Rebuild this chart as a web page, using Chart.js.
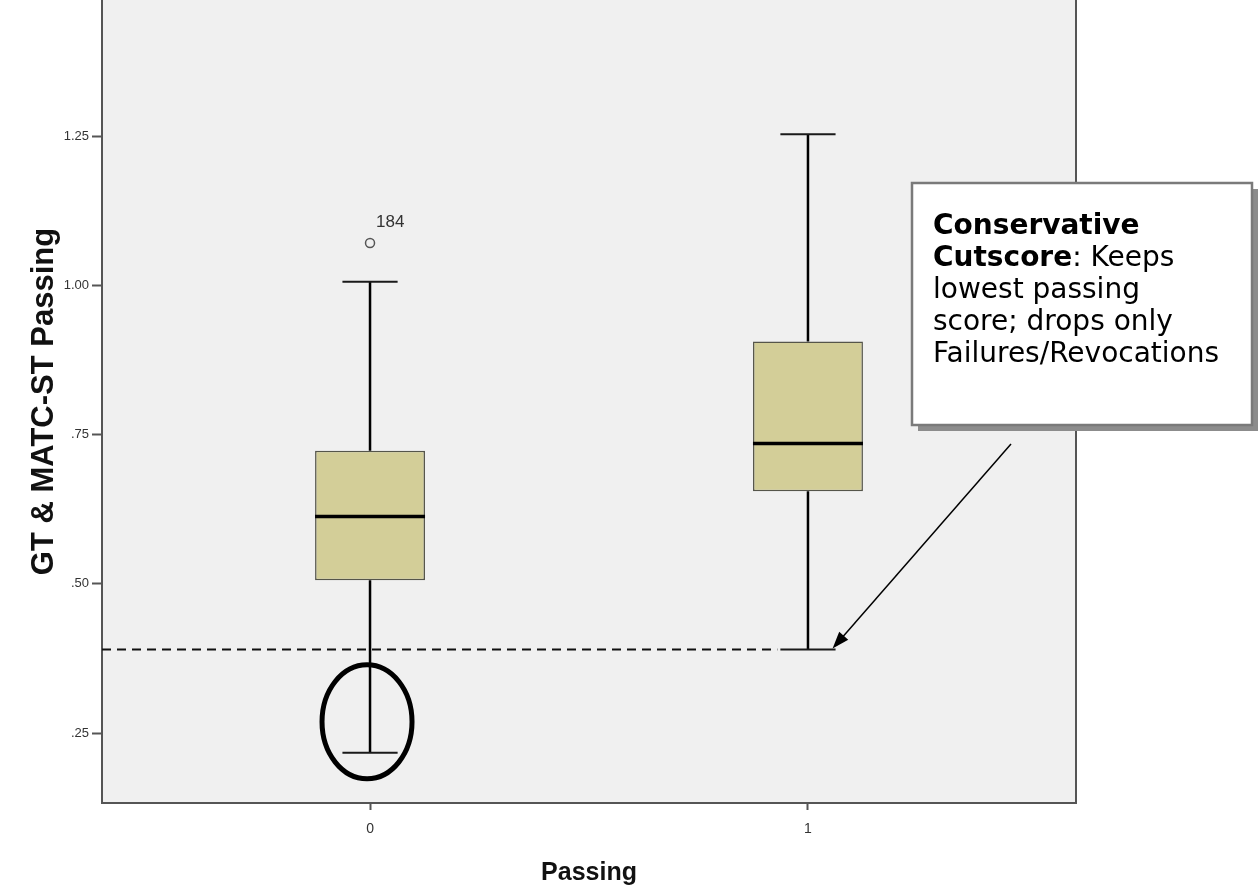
<!DOCTYPE html>
<html>
<head>
<meta charset="utf-8">
<title>GT &amp; MATC-ST Passing by Passing</title>
<script src="https://cdn.jsdelivr.net/npm/chart.js@4.4.1/dist/chart.umd.min.js"></script>
<style>
  html, body { margin: 0; padding: 0; background: #ffffff; }
  #wrap { width: 1258px; height: 888px; }
</style>
</head>
<body>
<div id="wrap"><canvas id="boxChart" width="1258" height="888"></canvas></div>
<script>
// ===== DATA =====
const groups = [0, 1];
const groupLabels = ['0', '1'];
const whiskerLow = [0.217, 0.390];
const q1 = [0.506, 0.655];
const median = [0.613, 0.735];
const q3 = [0.723, 0.906];
const whiskerHigh = [1.006, 1.253];
const outlierGroup = [0];
const outlierValue = [1.071];
const outlierLabel = ['184'];
const cutscore = 0.390;
const yTicks = [0.25, 0.50, 0.75, 1.00, 1.25];
const yTickLabels = ['.25', '.50', '.75', '1.00', '1.25'];

// ===== LAYOUT =====
const X_MIN = -0.612, X_MAX = 1.612;
const Y_MIN = 0.133, Y_MAX = 1.478;
const BOX_HALF = 0.1256;
const CAP_HALF = 0.063;
const AXIS_FONT = 'Liberation Sans, Arial, sans-serif';
const NOTE_FONT = 'DejaVu Sans, Verdana, sans-serif';

// line segments separated by gaps
function segments(list) {
    const out = [];
    list.forEach(([a, b]) => {
        out.push({ x: a[0], y: a[1] }, { x: b[0], y: b[1] }, { x: b[0], y: null });
    });
    return out;
}

const medianSegs = segments(groups.map((g, i) => [[g - BOX_HALF, median[i]], [g + BOX_HALF, median[i]]]));
const capSegs = segments(groups.flatMap((g, i) => [
    [[g - CAP_HALF, whiskerHigh[i]], [g + CAP_HALF, whiskerHigh[i]]],
    [[g - CAP_HALF, whiskerLow[i]], [g + CAP_HALF, whiskerLow[i]]]
]));
const whiskerSegs = segments(groups.flatMap((g, i) => [
    [[g, q3[i]], [g, whiskerHigh[i]]],
    [[g, q1[i]], [g, whiskerLow[i]]]
]));

// ===== PLUGINS =====
const plotBackground = {
    id: 'plotBackground',
    beforeDraw(chart) {
        const { ctx, chartArea: a } = chart;
        ctx.save();
        ctx.fillStyle = '#f0f0f0';
        ctx.fillRect(a.left, a.top, a.right - a.left, a.bottom - a.top);
        ctx.restore();
    }
};

const notes = {
    id: 'notes',
    afterDraw(chart) {
        const { ctx, chartArea: a, scales: { x, y } } = chart;
        ctx.save();

        // right frame line
        ctx.strokeStyle = '#555';
        ctx.lineWidth = 2;
        ctx.beginPath();
        ctx.moveTo(a.right, a.top);
        ctx.lineTo(a.right, a.bottom + 1);
        ctx.stroke();

        // outlier case labels
        ctx.fillStyle = '#333';
        ctx.font = '17px ' + AXIS_FONT;
        ctx.textAlign = 'left';
        ctx.textBaseline = 'middle';
        outlierValue.forEach((v, i) => {
            ctx.fillText(outlierLabel[i], x.getPixelForValue(outlierGroup[i]) + 6, y.getPixelForValue(v) - 21);
        });

        // circle round the lowest whisker of group 0
        const ex = x.getPixelForValue(groups[0]) - 3;
        const ey = y.getPixelForValue(whiskerLow[0]) - 31;
        ctx.strokeStyle = '#000';
        ctx.lineWidth = 5;
        ctx.beginPath();
        ctx.ellipse(ex, ey, 45, 57, 0, 0, Math.PI * 2);
        ctx.stroke();

        // callout box with shadow
        const bx = 912, by = 183, bw = 340, bh = 242;
        ctx.fillStyle = '#8c8c8c';
        ctx.fillRect(bx + 6, by + 6, bw, bh);
        ctx.fillStyle = '#ffffff';
        ctx.fillRect(bx, by, bw, bh);
        ctx.strokeStyle = '#7a7a7a';
        ctx.lineWidth = 2.5;
        ctx.strokeRect(bx, by, bw, bh);

        ctx.fillStyle = '#000';
        ctx.textBaseline = 'alphabetic';
        const tx = bx + 21;
        ctx.font = 'bold 28px ' + NOTE_FONT;
        ctx.fillText('Conservative', tx, 234);
        ctx.fillText('Cutscore', tx, 266);
        const w = ctx.measureText('Cutscore').width;
        ctx.font = '28px ' + NOTE_FONT;
        ctx.fillText(': Keeps', tx + w, 266);
        ctx.fillText('lowest passing', tx, 298);
        ctx.fillText('score; drops only', tx, 330);
        ctx.fillText('Failures/Revocations', tx, 362);

        // arrow to the lowest passing score
        const x0 = 1011, y0 = 444;
        const x1 = x.getPixelForValue(groups[1] + CAP_HALF) - 3;
        const y1 = y.getPixelForValue(whiskerLow[1]) - 1;
        const ang = Math.atan2(y1 - y0, x1 - x0);
        ctx.strokeStyle = '#000';
        ctx.lineWidth = 1.5;
        ctx.beginPath();
        ctx.moveTo(x0, y0);
        ctx.lineTo(x1 - 12 * Math.cos(ang), y1 - 12 * Math.sin(ang));
        ctx.stroke();
        ctx.beginPath();
        ctx.moveTo(x1, y1);
        ctx.lineTo(x1 - 17 * Math.cos(ang) + 6 * Math.sin(ang), y1 - 17 * Math.sin(ang) - 6 * Math.cos(ang));
        ctx.lineTo(x1 - 17 * Math.cos(ang) - 6 * Math.sin(ang), y1 - 17 * Math.sin(ang) + 6 * Math.cos(ang));
        ctx.closePath();
        ctx.fill();

        ctx.restore();
    }
};

// ===== CHART =====
const ctx = document.getElementById('boxChart').getContext('2d');
const chart = new Chart(ctx, {
    type: 'bar',
    data: {
        datasets: [
            {
                type: 'scatter',
                label: 'Outliers',
                data: outlierValue.map((v, i) => ({ x: outlierGroup[i], y: v })),
                pointRadius: 4.5,
                pointBorderWidth: 1.5,
                pointBorderColor: '#555',
                pointBackgroundColor: 'rgba(0,0,0,0)',
                order: 0
            },
            {
                type: 'line',
                label: 'Median',
                data: medianSegs,
                borderColor: '#000',
                borderWidth: 3.5,
                pointRadius: 0,
                order: 1
            },
            {
                type: 'line',
                label: 'Caps',
                data: capSegs,
                borderColor: '#1a1a1a',
                borderWidth: 2,
                pointRadius: 0,
                order: 2
            },
            {
                type: 'line',
                label: 'Whiskers',
                data: whiskerSegs,
                borderColor: '#000',
                borderWidth: 2.5,
                pointRadius: 0,
                order: 3
            },
            {
                type: 'line',
                label: 'Cutscore',
                data: [{ x: X_MIN, y: cutscore }, { x: groups[1] - CAP_HALF - 0.007, y: cutscore }],
                borderColor: '#111',
                borderWidth: 2,
                borderDash: [9, 6],
                pointRadius: 0,
                order: 4
            },
            {
                type: 'bar',
                label: 'IQR',
                data: groups.map((g, i) => ({ x: g, y: [q1[i], q3[i]] })),
                backgroundColor: '#d3ce98',
                borderColor: '#55554a',
                borderWidth: 1.5,
                borderSkipped: false,
                barPercentage: 0.251,
                categoryPercentage: 1,
                order: 5
            }
        ]
    },
    options: {
        responsive: false,
        animation: false,
        devicePixelRatio: 1,
        layout: { autoPadding: false, padding: { left: 0, right: 182, top: 0, bottom: 0 } },
        plugins: {
            legend: { display: false },
            tooltip: { enabled: false }
        },
        scales: {
            x: {
                type: 'linear',
                min: X_MIN,
                max: X_MAX,
                offset: false,
                afterBuildTicks: s => { s.ticks = groups.map(v => ({ value: v })); },
                afterFit: s => { s.height = 85; s.paddingLeft = 0; s.paddingRight = 0; },
                ticks: {
                    callback: v => groupLabels[groups.indexOf(v)],
                    color: '#333',
                    font: { family: AXIS_FONT, size: 14 },
                    padding: 11,
                    maxRotation: 0,
                    autoSkip: false
                },
                grid: { offset: false, drawOnChartArea: false, drawTicks: true, tickLength: 7, tickWidth: 2, color: '#555' },
                border: { display: true, color: '#555', width: 2 },
                title: {
                    display: true,
                    text: 'Passing',
                    color: '#111',
                    font: { family: AXIS_FONT, size: 25, weight: 'bold' },
                    padding: { top: 0, bottom: 0 }
                }
            },
            y: {
                min: Y_MIN,
                max: Y_MAX,
                afterBuildTicks: s => { s.ticks = yTicks.map(v => ({ value: v })); },
                afterFit: s => { s.width = 102; s.paddingTop = 0; s.paddingBottom = 0; },
                ticks: {
                    callback: v => yTickLabels[yTicks.indexOf(v)],
                    color: '#333',
                    font: { family: AXIS_FONT, size: 13 },
                    padding: 3
                },
                grid: { drawOnChartArea: false, drawTicks: true, tickLength: 10, tickWidth: 2, color: '#555' },
                border: { display: true, color: '#555', width: 2 },
                title: {
                    display: true,
                    text: 'GT & MATC-ST Passing',
                    color: '#111',
                    font: { family: AXIS_FONT, size: 31, weight: 'bold' },
                    padding: { top: 26, bottom: 0 }
                }
            }
        }
    },
    plugins: [plotBackground, notes]
});
</script>
</body>
</html>
